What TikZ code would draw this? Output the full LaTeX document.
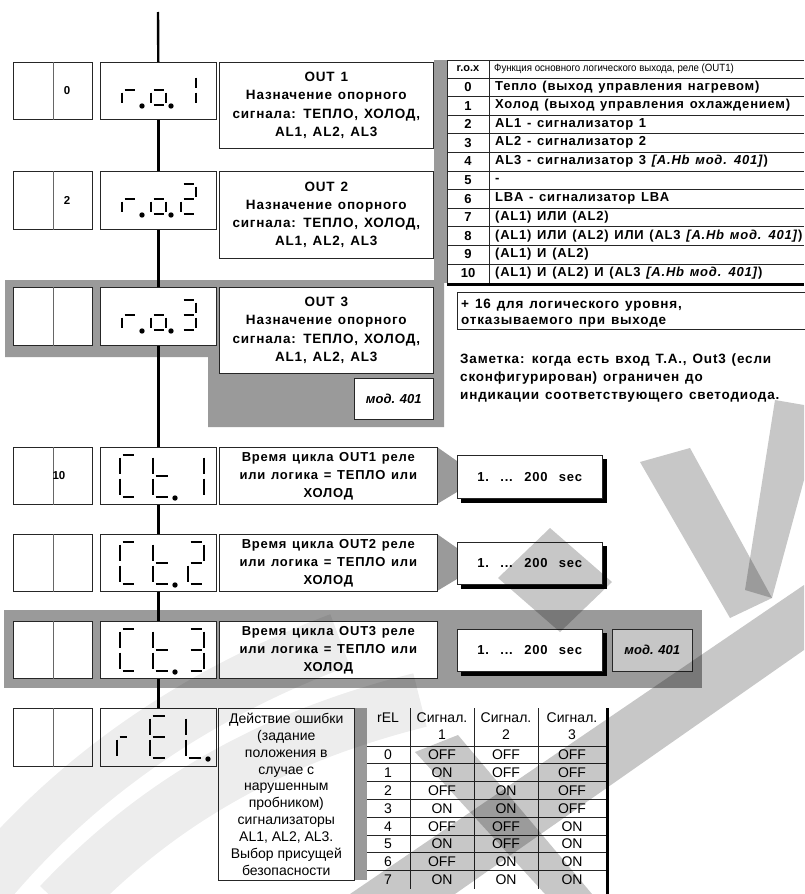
\documentclass[tikz,border=0pt]{standalone}
\usepackage{fontspec}
\usepackage{graphicx}
\setmainfont{Liberation Sans}
\newfontfamily\wfont[LetterSpace=6,WordSpace=1.3]{Liberation Sans}
\usetikzlibrary{calc}
\definecolor{panel}{HTML}{9A9A9A}
\definecolor{modgrey}{HTML}{C6C6C6}
\pgfdeclarelayer{bgzero}
\pgfdeclarelayer{bgone}
\pgfdeclarelayer{wmark}
\pgfsetlayers{bgzero,bgone,main,wmark}
\newcommand\bx[7]{\node[box,#6,minimum width={#4-#2},minimum height={#5-#3}] (#1) at (#2,#3) {#7};}
\newcommand\sgA{\draw[seg] (\dG,0) -- (\dW-\dG,0);}
\newcommand\sgB{\draw[seg] (\dW,\dG) -- (\dW,\dH/2-\dG);}
\newcommand\sgC{\draw[seg] (\dW,\dH/2+\dG) -- (\dW,\dH-\dG);}
\newcommand\sgD{\draw[seg] (\dG,\dH) -- (\dW-\dG,\dH);}
\newcommand\sgE{\draw[seg] (0,\dH/2+\dG) -- (0,\dH-\dG);}
\newcommand\sgF{\draw[seg] (0,\dG) -- (0,\dH/2-\dG);}
\newcommand\sgG{\draw[seg] (\dG,\dH/2) -- (\dW-\dG,\dH/2);}
\newcommand\sgP{\fill (\dW+5,\dH+1) circle (2.7pt);}
\newcommand\digit[5]{\begin{scope}[shift={(#1,#2)}]\def\dW{#3}\def\dH{#4}\def\dG{2.5}#5\end{scope}}
\begin{document}
\begin{tikzpicture}[x=1pt,y=-1pt,
  box/.style={draw=black!85, line width=0.6pt, fill=white, inner sep=0pt, anchor=north west},
  seg/.style={line width=2.8pt},
  vline/.style={line width=2.4pt},
  outtxt/.style={font=\wfont\bfseries\fontsize{13.5}{18.3}\selectfont, align=center},
  cttxt/.style={font=\wfont\bfseries\fontsize{13}{18}\selectfont, align=center},
  numtxt/.style={font=\bfseries\fontsize{11.5}{12}\selectfont},
  sectxt/.style={font=\wfont\bfseries\fontsize{13}{14}\selectfont},
  modtxt/.style={font=\bfseries\itshape\fontsize{13}{14}\selectfont},
  tabn/.style={font=\bfseries\fontsize{13}{14}\selectfont, inner sep=0pt},
  tabt/.style={font=\wfont\bfseries\fontsize{13}{14}\selectfont, anchor=west, inner sep=0pt},
  tline/.style={line width=0.8pt, black!85},
  noteline/.style={font=\wfont\bfseries\fontsize{13.5}{14}\selectfont, anchor=west, inner sep=0pt},
  reltxt/.style={font=\fontsize{14}{16.9}\selectfont, align=center},
  celltxt/.style={font=\fontsize{14}{15}\selectfont, inner sep=0pt},
  wm/.style={fill=black, opacity=0.22},
  wmlight/.style={draw=black, opacity=0.07, line width=55pt}
]
\useasboundingbox (0,0) rectangle (804,894);

% ---------- background and grey panels ----------
\begin{pgfonlayer}{bgzero}
\fill[white] (0,0) rectangle (804,894);
\fill[panel] (5,280) -- (444,280) -- (444,427) -- (208,427) -- (208,357) -- (5,357) -- cycle;
\fill[panel] (434,60) rectangle (447,283);
\fill[panel] (4,610) rectangle (702,688);
\fill[panel] (437,447) -- (457,461) -- (457,492) -- (437,504) -- cycle;
\fill[panel] (437,534) -- (457,548) -- (457,579) -- (437,591) -- cycle;
\fill[panel] (437,621) -- (457,635) -- (457,666) -- (437,678) -- cycle;
\fill[panel] (354,708) rectangle (367,880);
\end{pgfonlayer}

% ---------- row 1: r.o.1 ----------
\bx{l1}{13}{62}{92}{119}{}{}
\bx{d1}{100}{62}{216}{119}{}{}
\bx{t1}{219}{62}{433}{148}{outtxt}{OUT 1\\Назначение опорного\\сигнала: ТЕПЛО, ХОЛОД,\\AL1, AL2, AL3}
% ---------- row 2: r.o.2 ----------
\bx{l2}{13}{171}{92}{229}{}{}
\bx{d2}{100}{171}{216}{229}{}{}
\bx{t2}{219}{171}{433}{258}{outtxt}{OUT 2\\Назначение опорного\\сигнала: ТЕПЛО, ХОЛОД,\\AL1, AL2, AL3}
% ---------- row 3: r.o.3 ----------
\bx{l3}{13}{287}{92}{345}{}{}
\bx{d3}{100}{287}{216}{345}{}{}
\bx{t3}{219}{287}{433}{373}{outtxt}{OUT 3\\Назначение опорного\\сигнала: ТЕПЛО, ХОЛОД,\\AL1, AL2, AL3}
\bx{m3}{354}{378}{433}{419}{modtxt}{мод. 401}
% ---------- row 4: Ct.1 ----------
\bx{l4}{13}{447}{92}{504}{}{}
\bx{d4}{100}{447}{216}{504}{}{}
\bx{t4}{219}{447}{437}{504}{cttxt}{Время цикла OUT1 реле\\или логика = ТЕПЛО или\\ХОЛОД}
% ---------- row 5: Ct.2 ----------
\bx{l5}{13}{534}{92}{591}{}{}
\bx{d5}{100}{534}{216}{591}{}{}
\bx{t5}{219}{534}{437}{591}{cttxt}{Время цикла OUT2 реле\\или логика = ТЕПЛО или\\ХОЛОД}
% ---------- row 6: Ct.3 ----------
\bx{l6}{13}{621}{92}{678}{}{}
\bx{d6}{100}{621}{216}{678}{}{}
\bx{t6}{219}{621}{437}{678}{cttxt}{Время цикла OUT3 реле\\или логика = ТЕПЛО или\\ХОЛОД}
\bx{m6}{612}{629}{692}{671}{modtxt,fill=modgrey}{мод. 401}
% ---------- row 7: rEL ----------
\bx{l7}{13}{708}{92}{766}{}{}
\bx{d7}{100}{708}{216}{766}{}{}
\bx{t7}{218}{708}{354}{880}{reltxt}{Действие ошибки\\(задание\\положения в\\случае с\\нарушенным\\пробником)\\сигнализаторы\\AL1, AL2, AL3.\\Выбор присущей\\безопасности}

% dividers in the left boxes and their values
\foreach \n in {l1,l2,l3,l4,l5,l6,l7}
  \draw[black!60, line width=0.5pt] ($(\n.north west)+(40,0)$) -- ($(\n.south west)+(40,0)$);
\node[numtxt] (v1) at (67,90.5) {0};
\node[numtxt] (v2) at (67,200) {2};
\node[numtxt] (v4) at (59,475.5) {10};

% ---------- seconds boxes ----------
\bx{s4}{457}{455}{602}{498}{sectxt}{1.\ \ ...\ \ 200\ \ sec}
\bx{s5}{457}{542}{602}{584}{sectxt}{1.\ \ ...\ \ 200\ \ sec}
\bx{s6}{457}{629}{602}{671}{sectxt}{1.\ \ ...\ \ 200\ \ sec}
\begin{pgfonlayer}{bgone}
\foreach \n in {s4,s5,s6}
  \fill[black] ($(\n.north west)+(4,4)$) rectangle ($(\n.south east)+(4,4)$);
\end{pgfonlayer}

% ---------- main vertical connector ----------
\coordinate (top) at (158,12);
\begin{pgfonlayer}{bgone}
\draw[vline] (top) -- (d1.north);
\draw[vline] (d1.south) -- (d2.north);
\draw[vline] (d2.south) -- (d3.north);
\draw[vline] (d3.south) -- (d4.north);
\draw[vline] (d4.south) -- (d5.north);
\draw[vline] (d5.south) -- (d6.north);
\draw[vline] (d6.south) -- (d7.north);
\end{pgfonlayer}

% ---------- seven-segment displays ----------
\digit{122}{75}{15}{30}{\sgE\sgG\sgP}
\digit{151}{75}{15}{30}{\sgC\sgD\sgE\sgG\sgP}
\digit{181}{75}{15}{30}{\sgB\sgC}
\digit{122}{184}{15}{30}{\sgE\sgG\sgP}
\digit{151}{184}{15}{30}{\sgC\sgD\sgE\sgG\sgP}
\digit{181}{184}{15}{30}{\sgA\sgB\sgG\sgE\sgD}
\digit{122}{300}{15}{30}{\sgE\sgG\sgP}
\digit{151}{300}{15}{30}{\sgC\sgD\sgE\sgG\sgP}
\digit{181}{300}{15}{30}{\sgA\sgB\sgG\sgC\sgD}
\foreach \yy in {455,542,629}{
  \digit{120}{\yy}{16}{42}{\sgA\sgF\sgE\sgD}
  \digit{153}{\yy}{17}{42}{\sgF\sgE\sgG\sgD\sgP}
}
\digit{188}{455}{16}{42}{\sgB\sgC}
\digit{188}{542}{16}{42}{\sgA\sgB\sgG\sgE\sgD}
\digit{188}{629}{16}{42}{\sgA\sgB\sgG\sgC\sgD}
\digit{117}{716}{12}{42}{\sgE\sgG}
\digit{150}{716}{17}{42}{\sgA\sgF\sgG\sgE\sgD}
\digit{186}{716}{17}{42}{\sgF\sgE\sgD\sgP}

% ---------- r.o.x table ----------
\draw[tline] (447,60) -- (804,60);
\draw[tline] (447,60) -- (447,284);
\draw[tline] (489,60) -- (489,284);
\foreach \k in {0,...,10} \draw[tline] (447,{78+18.6*\k}) -- (804,{78+18.6*\k});
\draw[line width=3pt] (447,284) -- (804,284);
\node[font=\bfseries\fontsize{11}{12}\selectfont, inner sep=0pt] (hx) at (468,69) {r.o.x};
\node[anchor=west, inner sep=0pt, font=\fontsize{10.5}{12}\selectfont] (hf) at (494,69) {\scalebox{0.92}[1]{Функция основного логического выхода, реле (OUT1)}};
\foreach \i/\txt in {0/{Тепло (выход управления нагревом)},
  1/{Холод (выход управления охлаждением)},
  2/{AL1 - сигнализатор 1},
  3/{AL2 - сигнализатор 2},
  4/{AL3 - сигнализатор 3 \textit{[A.Hb мод. 401]})},
  5/{-},
  6/{LBA - сигнализатор LBA},
  7/{(AL1) ИЛИ (AL2)},
  8/{(AL1) ИЛИ (AL2) ИЛИ (AL3 \textit{[A.Hb мод. 401]})},
  9/{(AL1) И (AL2)},
  10/{(AL1) И (AL2) И (AL3 \textit{[A.Hb мод. 401]})}}{
  \node[tabn] (n\i) at (468,{87+18.6*\i}) {\i};
  \node[tabt] (r\i) at (495,{87+18.6*\i}) {\txt};
}

% ---------- +16 box and note ----------
\bx{p16}{457}{292}{806}{329}{}{}
\node[noteline] (p16a) at (461,305) {+ 16 для логического уровня,};
\node[noteline] (p16b) at (461,322) {отказываемого при выходе};
\node[noteline] (nt1) at (460,360) {Заметка: когда есть вход Т.А., Out3 (если};
\node[noteline] (nt2) at (460,378) {сконфигурирован) ограничен до};
\node[noteline] (nt3) at (460,397) {индикации соответствующего светодиода.};

% ---------- rEL table ----------
\foreach \xx in {410,474,538} \draw[tline] (\xx,708) -- (\xx,889);
\draw[line width=3pt] (607,708) -- (607,894);
\foreach \k in {0,...,7} \draw[tline] (367,{746+17.8*\k}) -- (606,{746+17.8*\k});
\node[celltxt] (hr) at (388,718) {rEL};
\foreach \c/\xx in {1/442,2/506,3/572}{
  \node[celltxt] (hs\c) at (\xx,718) {Сигнал.};
  \node[celltxt] (hn\c) at (\xx,735) {\c};
}
\foreach \i/\a/\b/\c in {0/OFF/OFF/OFF,1/ON/OFF/OFF,2/OFF/ON/OFF,3/ON/ON/OFF,4/OFF/OFF/ON,5/ON/OFF/ON,6/OFF/ON/ON,7/ON/ON/ON}{
  \node[celltxt] (ri\i) at (388,{755+17.8*\i}) {\i};
  \node[celltxt] (ra\i) at (442,{755+17.8*\i}) {\a};
  \node[celltxt] (rb\i) at (506,{755+17.8*\i}) {\b};
  \node[celltxt] (rc\i) at (572,{755+17.8*\i}) {\c};
}

% ---------- watermark (faint logo) ----------
\begin{pgfonlayer}{wmark}
\draw[wmlight] (-30,905) .. controls (60,790) and (180,700) .. (340,640);
\draw[wmlight] (60,905) .. controls (150,810) and (260,740) .. (420,700);
\fill[wm] (350,894) -- (455,894) -- (804,650) -- (804,585) -- cycle;
\fill[wm] (415,752) -- (458,735) -- (592,894) -- (545,894) -- cycle;
\fill[wm] (550,528) -- (612,582) -- (560,632) -- (498,578) -- cycle;
\fill[wm] (640,462) -- (690,448) -- (772,598) -- (730,618) -- cycle;
\fill[wm] (775,400) -- (804,405) -- (804,480) -- (772,598) -- (745,590) -- cycle;
\end{pgfonlayer}
\end{tikzpicture}
\end{document}
